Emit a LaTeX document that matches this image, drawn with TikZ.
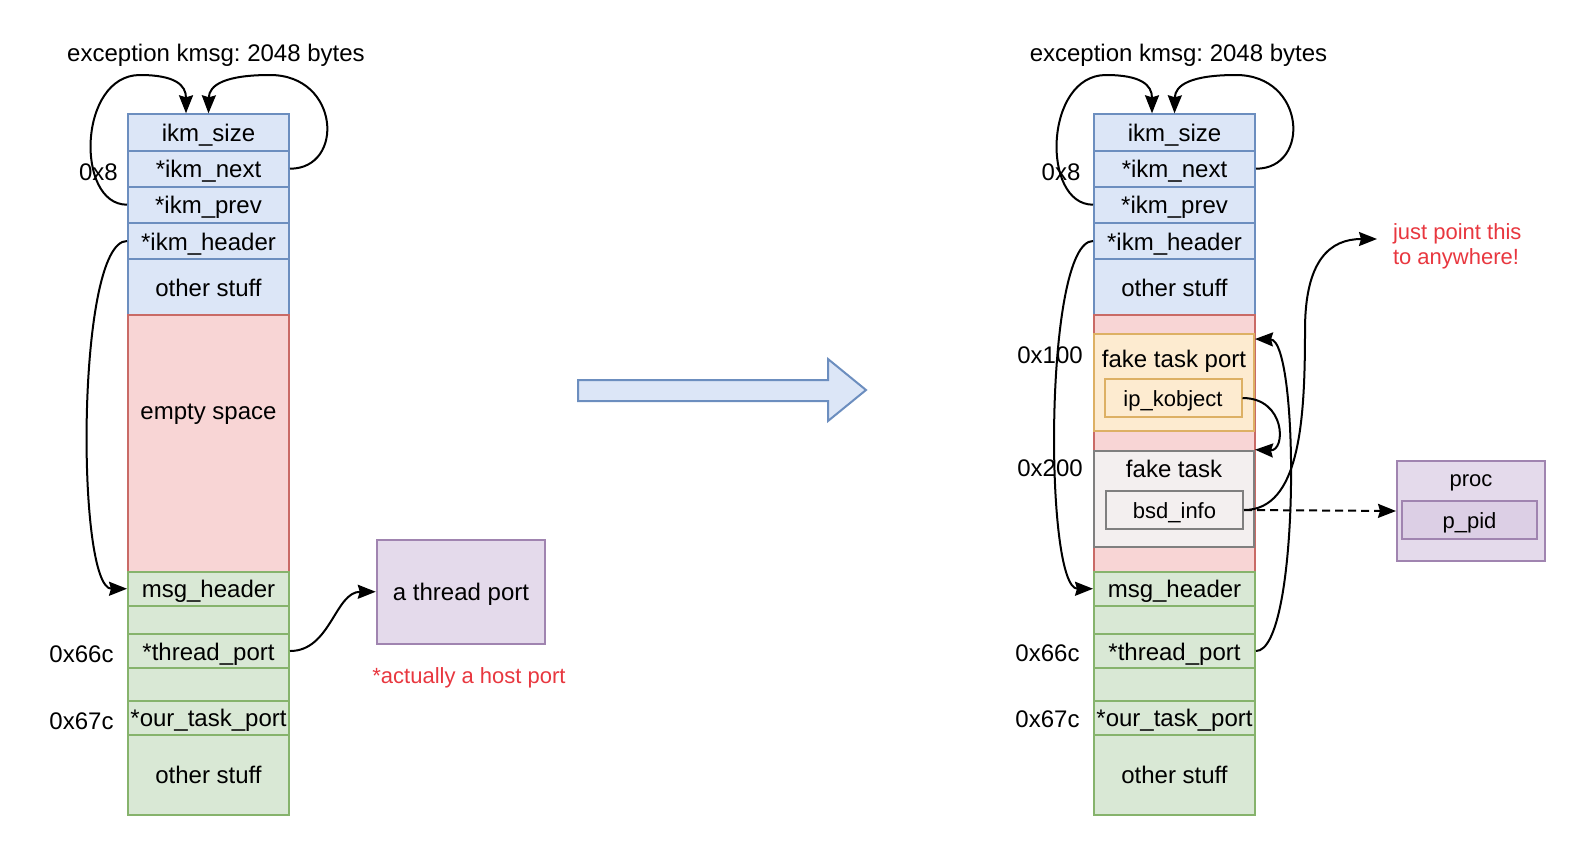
\documentclass[tikz,border=0pt]{standalone}
\usepackage{fontspec}
\setmainfont{Liberation Sans}
\usetikzlibrary{arrows.meta}
\frenchspacing

\definecolor{cellblue}{HTML}{DCE6F7}
\definecolor{lineblue}{HTML}{6C8EBF}
\definecolor{cellpink}{HTML}{F8D5D5}
\definecolor{linepink}{HTML}{C96A66}
\definecolor{cellgreen}{HTML}{D9E8D5}
\definecolor{linegreen}{HTML}{86B36C}
\definecolor{cellpurple}{HTML}{E4DAEB}
\definecolor{innerpurple}{HTML}{DCCFE5}
\definecolor{linepurple}{HTML}{A084B0}
\definecolor{cellorange}{HTML}{FDEBD0}
\definecolor{lineorange}{HTML}{DDB064}
\definecolor{cellgrey}{HTML}{F3EFEF}
\definecolor{linegrey}{HTML}{7F7F7F}
\definecolor{notered}{HTML}{E8373F}

\begin{document}
\begin{tikzpicture}[x=0.5pt,y=-0.5pt,line width=1pt,
        >={Stealth[length=9pt,width=7pt,inset=1pt]},
        cell/.style={draw,rectangle,inner sep=0pt,minimum width=80.5pt,
            font=\fontsize{12}{14}\selectfont,text height=10.5pt,text depth=1.5pt},
        inbox/.style={draw,rectangle,inner sep=0pt,minimum height=19pt,
            font=\fontsize{11}{13}\selectfont,text height=9.5pt,text depth=1.5pt},
        blue/.style={cell,fill=cellblue,draw=lineblue},
        pink/.style={cell,fill=cellpink,draw=linepink},
        green/.style={cell,fill=cellgreen,draw=linegreen},
        plain/.style={inner sep=0pt,font=\fontsize{12}{14}\selectfont,text height=10.5pt,text depth=1.5pt},
        small/.style={inner sep=0pt,font=\fontsize{11}{13}\selectfont,text height=9.5pt,text depth=1.5pt},
        note/.style={small,text=notered}]
    \useasboundingbox (0,0) rectangle (1590,858);

    % before
    \node[plain] (ltitle) at (216,52.5) {exception kmsg: 2048 bytes};
    \node[blue,minimum height=18.2pt] (lsize) at (208.5,132.5) {ikm\_size};
    \node[blue,minimum height=18pt] (lnext) at (208.5,168.7) {*ikm\_next};
    \node[blue,minimum height=18pt] (lprev) at (208.5,204.7) {*ikm\_prev};
    \node[blue,minimum height=18.3pt] (lhead) at (208.5,241) {*ikm\_header};
    \node[blue,minimum height=27.9pt] (lother) at (208.5,287.2) {other stuff};
    \node[pink,minimum height=128.2pt] (lgap) at (208.5,443.3) {};
    \node[plain] (lempty) at (208.5,410) {empty space};
    \node[green,minimum height=17.25pt] (lmsg) at (208.5,588.75) {msg\_header};
    \node[green,minimum height=14pt] (lpad) at (208.5,620) {};
    \node[green,minimum height=17pt] (lthr) at (208.5,651) {*thread\_port};
    \node[green,minimum height=16.5pt] (lpadb) at (208.5,684.5) {};
    \node[green,minimum height=16.75pt] (ltask) at (208.5,717.75) {*our\_task\_port};
    \node[green,minimum height=40.25pt] (lrest) at (208.5,774.75) {other stuff};
    \node[plain] (loff8) at (98.5,171) {0x8};
    \node[plain] (loffc) at (81.5,653) {0x66c};
    \node[plain] (loffd) at (81.5,720) {0x67c};
    \node[cell,fill=cellpurple,draw=linepurple,minimum width=84.25pt,minimum height=52.25pt] (lport) at (461,591.75) {a thread port};
    \node[note] (lnote) at (469,675) {*actually a host port};

    \draw[->] (lnext.east) .. controls (345,168.7) and (340,75) .. (270,75) .. controls (225,75) and (209,85) .. (lsize.north);
    \draw[->] (lprev.west) .. controls (75,204.7) and (78,75) .. (140,75) .. controls (175,75) and (186,85) .. ([xshift=-11.25pt]lsize.north);
    \draw[->] (lhead.west) .. controls (76,241) and (76,588.75) .. (lmsg.west);
    \draw[->] (lthr.east) to[out=0,in=180] (lport.west);

    % big arrow
    \draw[fill=cellblue,draw=lineblue] (578,380) -- (828,380) -- (828,359) -- (866,390) -- (828,421) -- (828,401) -- (578,401) -- cycle;

    % after
    \node[plain] (rtitle) at (1178.5,52.5) {exception kmsg: 2048 bytes};
    \node[blue,minimum height=18.2pt] (rsize) at (1174.5,132.5) {ikm\_size};
    \node[blue,minimum height=18pt] (rnext) at (1174.5,168.7) {*ikm\_next};
    \node[blue,minimum height=18pt] (rprev) at (1174.5,204.7) {*ikm\_prev};
    \node[blue,minimum height=18.3pt] (rhead) at (1174.5,241) {*ikm\_header};
    \node[blue,minimum height=27.9pt] (rother) at (1174.5,287.2) {other stuff};
    \node[pink,minimum height=128.2pt] (rgap) at (1174.5,443.3) {};
    \node[cell,fill=cellorange,draw=lineorange,minimum width=80pt,minimum height=48.5pt] (rfport) at (1174,382.5) {};
    \node[plain] (rfportt) at (1174,358) {fake task port};
    \node[inbox,fill=cellorange,draw=lineorange,minimum width=68.5pt] (rkobj) at (1173,398) {ip\_kobject};
    \node[cell,fill=cellgrey,draw=linegrey,minimum width=80pt,minimum height=48pt] (rftask) at (1174,498.7) {};
    \node[plain] (rftaskt) at (1174,468) {fake task};
    \node[inbox,fill=cellgrey,draw=linegrey,minimum width=68.5pt] (rbsd) at (1174.5,510) {bsd\_info};
    \node[green,minimum height=17.25pt] (rmsg) at (1174.5,588.75) {msg\_header};
    \node[green,minimum height=14pt] (rpad) at (1174.5,620) {};
    \node[green,minimum height=17pt] (rthr) at (1174.5,651) {*thread\_port};
    \node[green,minimum height=16.5pt] (rpadb) at (1174.5,684.5) {};
    \node[green,minimum height=16.75pt] (rtask) at (1174.5,717.75) {*our\_task\_port};
    \node[green,minimum height=40.25pt] (rrest) at (1174.5,774.75) {other stuff};
    \node[plain] (roff8) at (1061,171) {0x8};
    \node[plain] (roffa) at (1050,354) {0x100};
    \node[plain] (roffb) at (1050,467) {0x200};
    \node[plain] (roffc) at (1047.5,652) {0x66c};
    \node[plain] (roffd) at (1047.5,718) {0x67c};
    \node[cell,fill=cellpurple,draw=linepurple,minimum width=74pt,minimum height=50pt] (proc) at (1471,511) {};
    \node[small] (proct) at (1471,478) {proc};
    \node[inbox,fill=innerpurple,draw=linepurple,minimum width=67.5pt] (ppid) at (1469.5,520) {p\_pid};
    \node[note,anchor=west,align=left,inner xsep=7.5pt,inner ysep=0pt,text height=,text depth=,
        font=\fontsize{11}{12.5}\selectfont] (rnote) at (1377,246.8) {just point this\\to anywhere!};

    \draw[->] (rnext.east) .. controls (1311,168.7) and (1306,75) .. (1236,75) .. controls (1191,75) and (1175,85) .. (rsize.north);
    \draw[->] (rprev.west) .. controls (1041,204.7) and (1044,75) .. (1106,75) .. controls (1141,75) and (1152,85) .. ([xshift=-11.25pt]rsize.north);
    \draw[->] (rhead.west) .. controls (1044,241) and (1044,588.75) .. (rmsg.west);
    \draw[->] (rkobj.east) .. controls (1286,398) and (1286,451) .. (rftask.north east);
    \draw[->] (rthr.east) .. controls (1300,651) and (1300,340) .. ([yshift=-3pt]rfport.north east);
    \draw[->] (rbsd.east) .. controls (1300,510) and (1305,420) .. (1305,330) .. controls (1305,260) and (1330,239) .. ([yshift=3.9pt]rnote.west);
    \draw[->,dashed,dash pattern=on 4pt off 2.5pt] (rbsd.east) -- (proc.west);
\end{tikzpicture}
\end{document}
